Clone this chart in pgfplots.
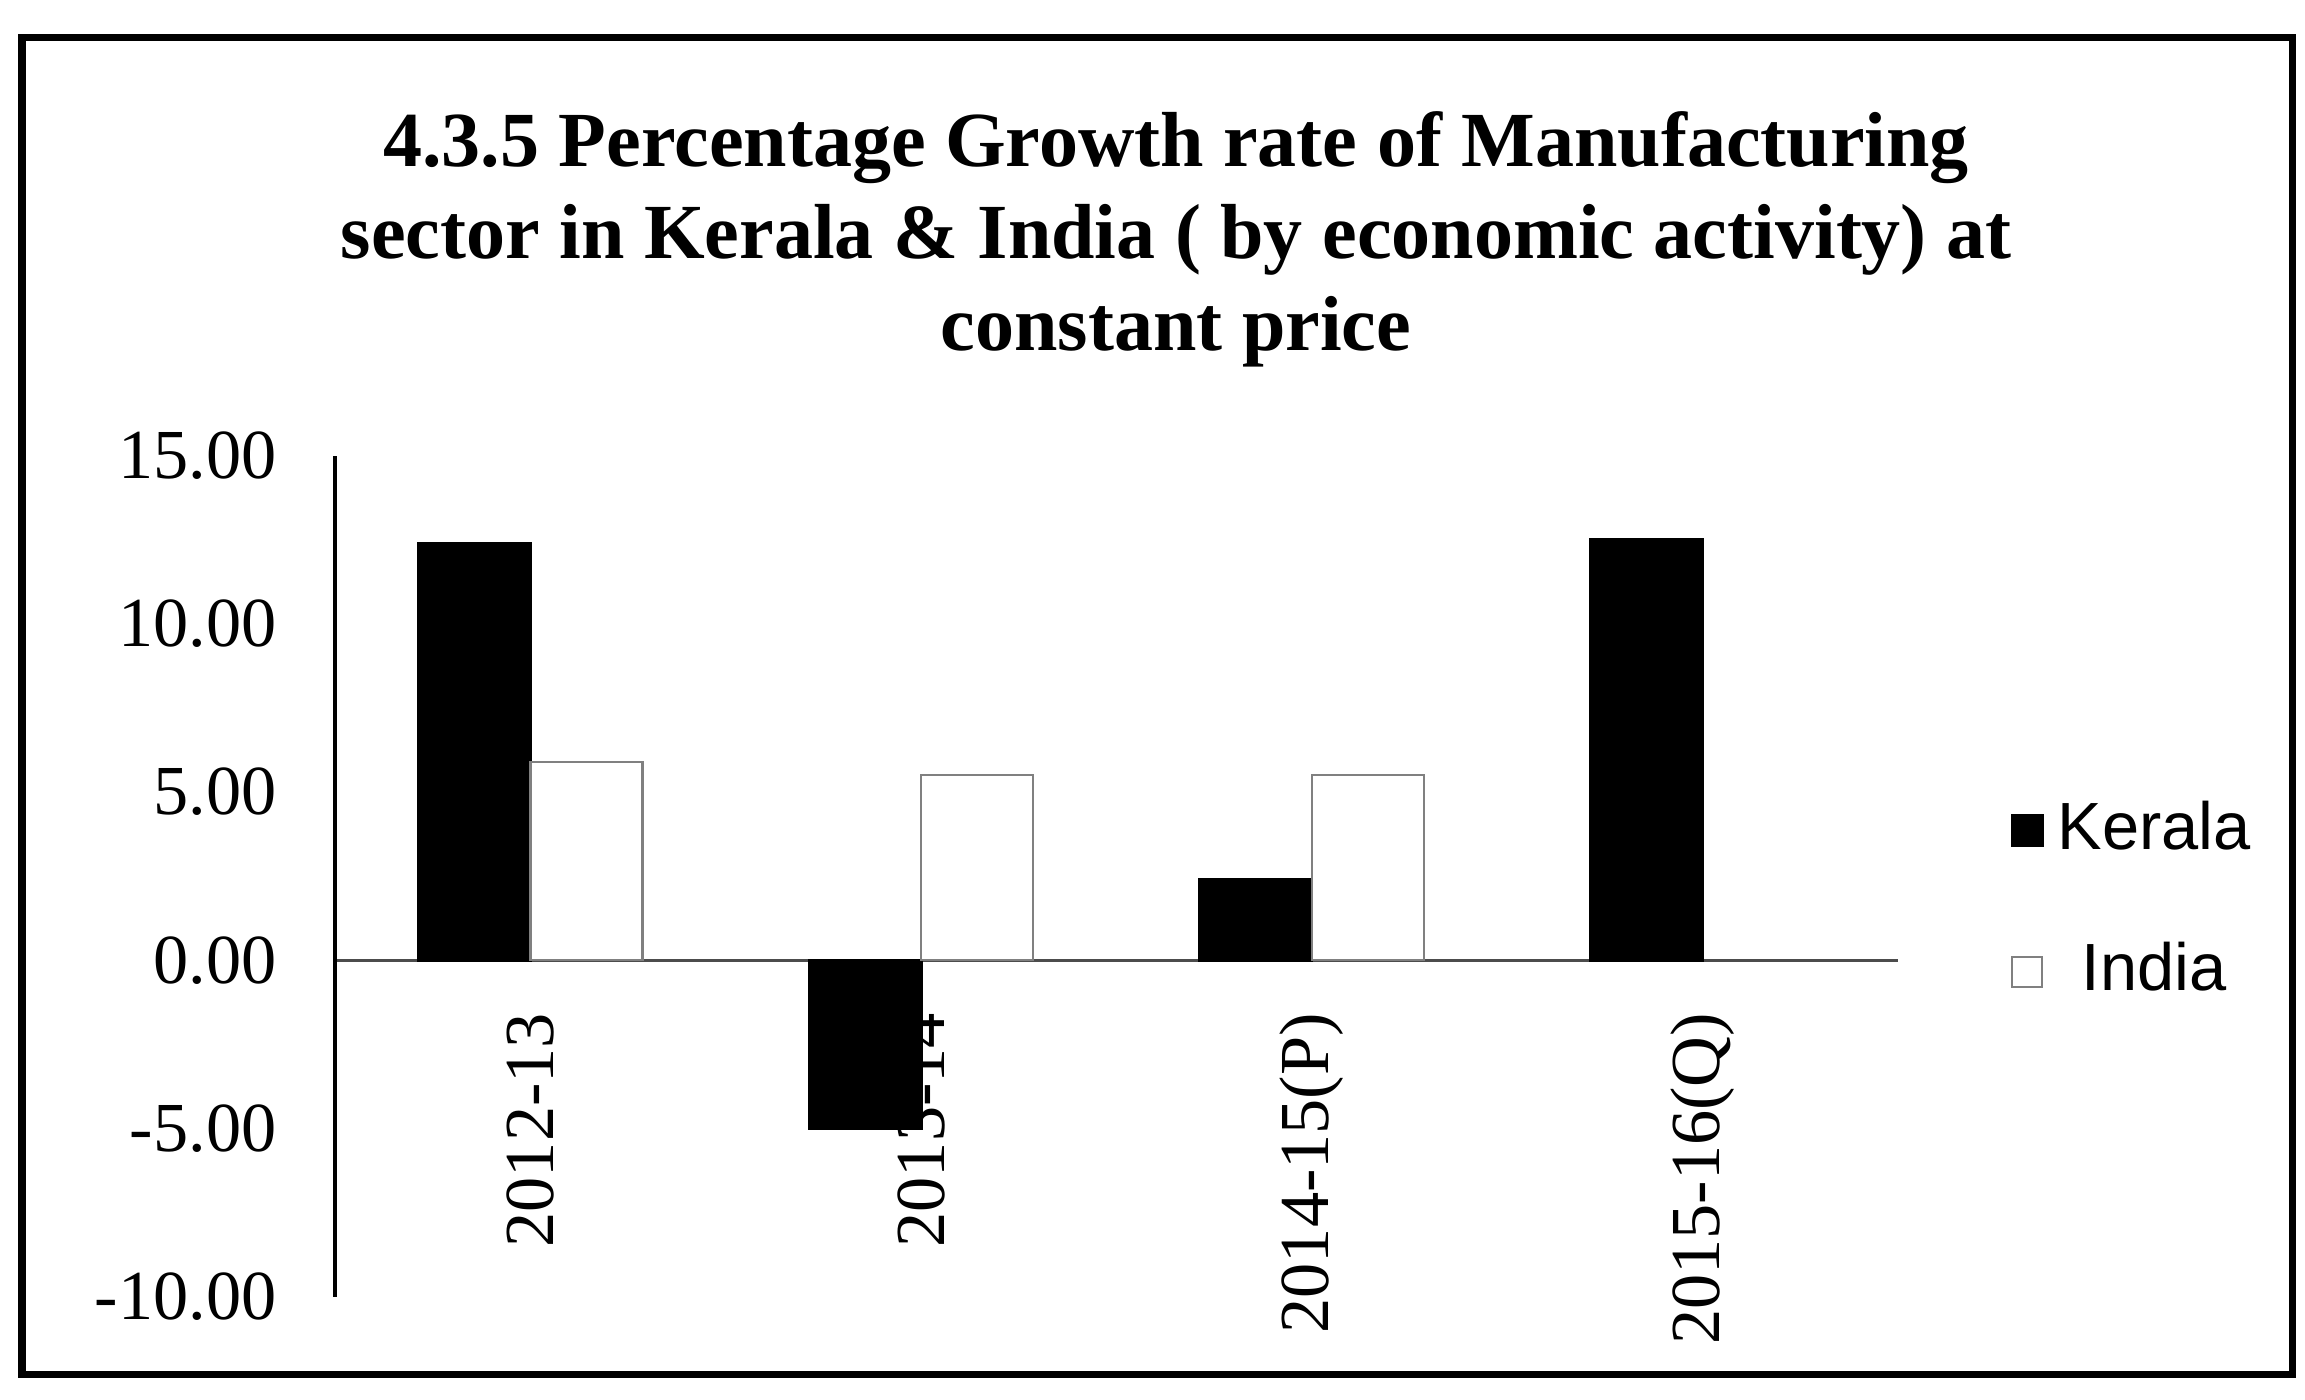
\documentclass[border=0pt]{standalone}
\usepackage{pgfplots}
\pgfplotsset{compat=1.18}
\usepackage{fontspec}
\setmainfont{Liberation Serif}
\newfontfamily\legendfont{Liberation Sans}
\begin{document}
\begin{tikzpicture}[x=1cm,y=1cm]
\path[use as bounding box] (0,0) rectangle (11.525,6.997);
\draw[line width=1pt] (0.11,0.125) rectangle (11.46,6.81);
\node[align=center, font=\fontsize{11.1}{13.1}\selectfont\bfseries] at (5.88,5.80)
  {4.3.5 Percentage Growth rate of Manufacturing\\ sector in Kerala \& India ( by economic activity) at\\ constant price};
\begin{axis}[
  at={(1.676cm,0.514cm)}, anchor=south west,
  scale only axis, width=7.813cm, height=4.204cm,
  xmin=-0.5, xmax=3.5, ymin=-10, ymax=15,
  ybar=0pt, bar width=0.56cm,
  axis x line*=middle, axis y line*=left,
  x axis line style={line width=0.5pt, black!70},
  y axis line style={line width=0.6pt},
  xtick={0,1,2,3},
  xticklabels={2012-13,2013-14,2014-15(P),2015-16(Q)},
  xticklabel style={rotate=90, anchor=east, font=\fontsize{10}{12}\selectfont},
  xticklabel shift=0.14cm,
  ytick={-10,-5,0,5,10,15},
  yticklabels={-10.00,-5.00,0.00,5.00,10.00,15.00},
  yticklabel style={font=\fontsize{10}{12}\selectfont},
  yticklabel shift=0.17cm,
  major tick length=0pt,
  legend style={at={(1.058,0.47)}, anchor=west, draw=none, fill=none,
    font=\legendfont\fontsize{9.5}{12}\selectfont, row sep=0.27cm},
  legend image code/.code={\draw[#1] (0cm,-0.075cm) rectangle (0.15cm,0.075cm);},
  clip=false,
]
\addplot[fill=black, draw=black] coordinates {(0,12.4) (1,-5.0) (2,2.4) (3,12.5)};
\addplot[fill=white, draw=black!50, line width=0.3pt] coordinates {(0,5.9) (1,5.5) (2,5.5)};
\legend{Kerala,India}
\end{axis}
\end{tikzpicture}
\end{document}
